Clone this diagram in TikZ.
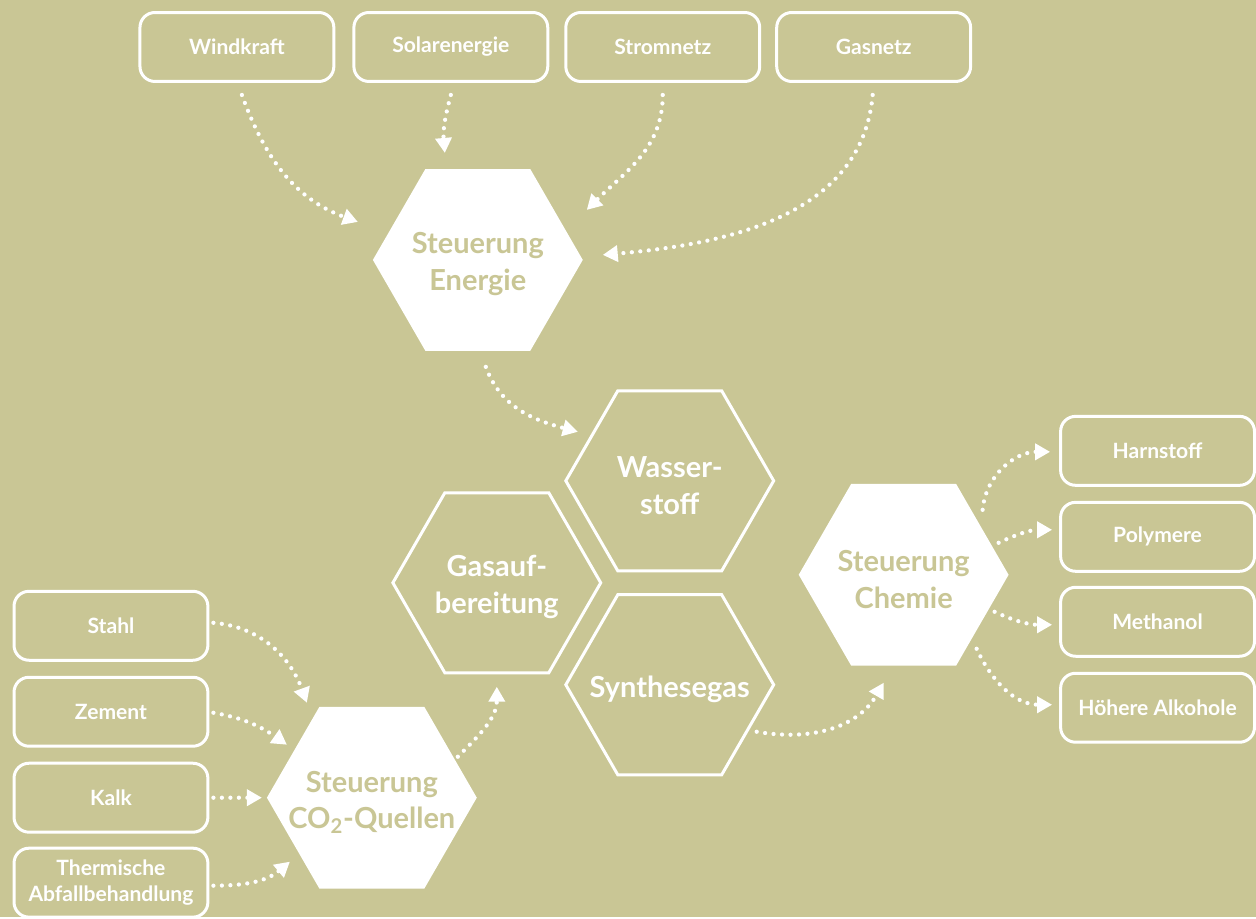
\documentclass[tikz,border=0pt]{standalone}
\usepackage{fontspec}
\setmainfont{Lato}
\usetikzlibrary{shapes.geometric, arrows.meta}
\definecolor{bgolive}{HTML}{C9C695}

\begin{document}
\begin{tikzpicture}[x = 0.02cm, y = 0.02cm,
	box/.style = {draw = white, line width = 0.06cm, rounded corners = 0.3cm,
		minimum width = 3.88cm, minimum height = 1.38cm, align = center,
		text = white, font = \fontsize{12}{15}\selectfont\bfseries},
	hextext/.style = {align = center, yshift = -0.09cm,
		font = \fontsize{16.5}{21}\selectfont\bfseries},
	hexfill/.style = {regular polygon, regular polygon sides = 6, fill = white,
		minimum size = 4.2cm, inner sep = 0pt,
		label = {[hextext, text = bgolive]center:#1}},
	hexline/.style = {regular polygon, regular polygon sides = 6, draw = white,
		line width = 0.06cm, minimum size = 4.16cm, inner sep = 0pt,
		label = {[hextext, text = white]center:#1}},
	flow/.style = {white, line width = 0.085cm, line cap = round,
		dash pattern = on 0pt off 0.17cm,
		-{Triangle[length = 0.3cm, width = 0.32cm]}}]
	\fill[bgolive] (0,0) rectangle (1256,-917);

	% Quellen oben
	\node[box] (wind)  at (237,-47) {Windkraft};
	\node[box] (solar) at (451,-47) {Solarenergie};
	\node[box] (strom) at (663,-47) {Stromnetz};
	\node[box] (gas)   at (874,-47) {Gasnetz};

	% CO2-Quellen links
	\node[box] (stahl)  at (111,-626) {Stahl};
	\node[box] (zement) at (111,-712) {Zement};
	\node[box] (kalk)   at (111,-798) {Kalk};
	\node[box] (abfall) at (111,-883) {Thermische\\Abfallbehandlung};

	% Produkte rechts
	\foreach \n/\t/\y in {harn/Harnstoff/451, poly/Polymere/537,
			meth/Methanol/622, alk/Höhere Alkohole/708}
		{\node[box] (\n) at (1158,-\y) {\t};}

	% Waben
	\node[hexfill={Steuerung\\Energie}] (energie) at (478,-260) {};
	\node[hexfill={Steuerung\\CO\textsubscript{2}-Quellen}] (co2) at (372,-798) {};
	\node[hexfill={Steuerung\\Chemie}] (chemie) at (904,-575) {};
	\node[hexline={Wasser-\\stoff}] (wasser) at (670,-481) {};
	\node[hexline={Gasauf-\\bereitung}] (aufb) at (497,-583) {};
	\node[hexline={Synthesegas}] (synth) at (670,-685) {};

	\draw[flow] ([shift={(5,-12)}]wind.south)  to[out=-70, in=160] ([shift={(-120,38)}]energie.center);
	\draw[flow] ([shift={(0,-12)}]solar.south) to[out=-105, in=95] ([shift={(-33,107)}]energie.center);
	\draw[flow] ([shift={(0,-12)}]strom.south) to[out=-90, in=45]  ([shift={(109,50)}]energie.center);
	\draw[flow] ([shift={(-1,-12)}]gas.south)  to[out=-95, in=5]   ([shift={(125,5)}]energie.center);

	\draw[flow] ([shift={(8,-107)}]energie.center) to[out=-70, in=165] ([shift={(-92,49)}]wasser.center);
	\draw[flow] ([shift={(86,41)}]co2.center)      to[out=45, in=-90]  ([shift={(0,-104)}]aufb.center);
	\draw[flow] ([shift={(87,-47)}]synth.center)   to[out=-10, in=-120] ([shift={(-20,-108)}]chemie.center);

	\draw[flow] ([shift={(79,65)}]chemie.center)  to[out=85, in=180]  ([shift={(-9,-1)}]harn.west);
	\draw[flow] ([shift={(95,32)}]chemie.center)  to[out=25, in=180]  ([shift={(-7,7)}]poly.west);
	\draw[flow] ([shift={(91,-37)}]chemie.center) to[out=-25, in=180] ([shift={(-7,-3)}]meth.west);
	\draw[flow] ([shift={(73,-74)}]chemie.center) to[out=-65, in=180] ([shift={(-7,3)}]alk.west);

	\draw[flow] ([shift={(4,3)}]stahl.east)   to[out=-5, in=110]   ([shift={(-65,95)}]co2.center);
	\draw[flow] ([shift={(4,-1)}]zement.east) to[out=-10, in=145]  ([shift={(-85,53)}]co2.center);
	\draw[flow] ([shift={(4,0)}]kalk.east)    --                   ([shift={(-110,0)}]co2.center);
	\draw[flow] ([shift={(4,-3)}]abfall.east) to[out=0, in=-140]   ([shift={(-82,-64)}]co2.center);

\end{tikzpicture}
\end{document}
